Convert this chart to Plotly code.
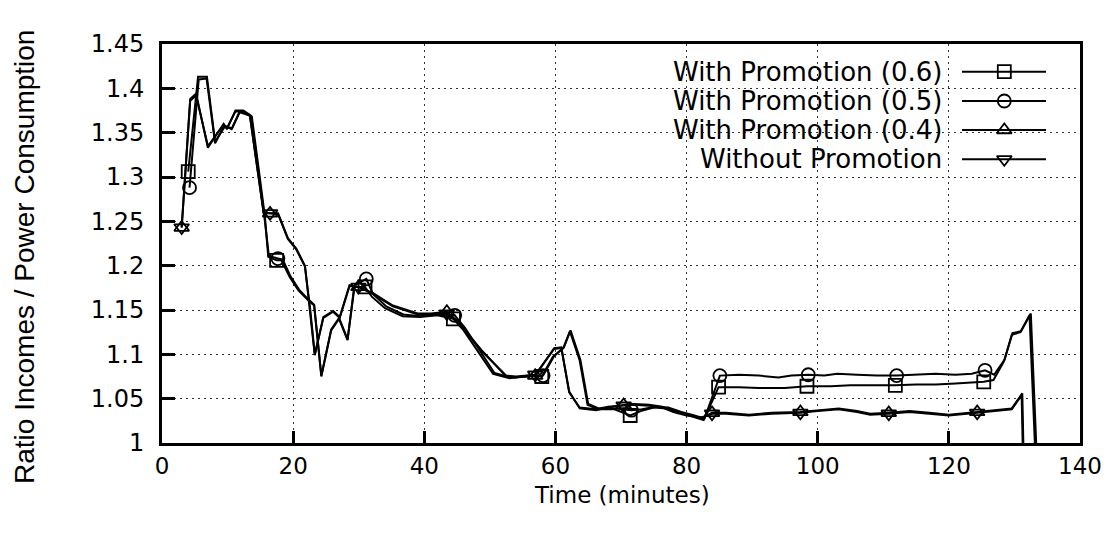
import plotly.graph_objects as go

# ---------------- data ----------------
t_06 = [4.0, 5.5, 6.85, 8.1, 9.6, 10.7, 11.9, 13.7, 15.7, 16.2,
        17.48, 18.2, 19.5, 20.8, 22.3, 23.2, 24.3, 25.8, 27.0, 28.3,
        29.3, 30.96, 32.0, 34.0, 36.7, 39.3, 42.0, 44.44, 46.0, 49.4,
        50.5, 53.0, 56.0, 57.92, 59.6, 61.2, 62.2, 63.7, 64.9, 66.5,
        69.0, 71.4, 73.0, 75.0, 77.0, 79.0, 81.0, 82.6, 84.88, 88.0,
        91.0, 95.0, 98.36, 102.0, 105.0, 108.0, 111.84, 115.0, 118.0, 121.0,
        125.32, 126.8, 128.4, 129.6, 130.9, 132.3, 133.4]
v_06 = [1.306, 1.413, 1.413, 1.340, 1.357, 1.355, 1.374, 1.368, 1.255, 1.210,
        1.206, 1.206, 1.187, 1.172, 1.161, 1.155, 1.075, 1.127, 1.140, 1.116,
        1.176, 1.176, 1.165, 1.152, 1.143, 1.142, 1.144, 1.140, 1.127, 1.090,
        1.078, 1.073, 1.076, 1.075, 1.097, 1.107, 1.126, 1.093, 1.043, 1.038,
        1.038, 1.031, 1.036, 1.040, 1.039, 1.034, 1.030, 1.026, 1.063, 1.063,
        1.062, 1.062, 1.064, 1.064, 1.065, 1.065, 1.065, 1.066, 1.066, 1.067,
        1.069, 1.071, 1.092, 1.122, 1.125, 1.144, 0.95]
m_06 = [4.0, 17.48, 30.96, 44.44, 57.92, 71.4, 84.88, 98.36, 111.84, 125.32]

t_05 = [4.2, 5.6, 6.8, 8.1, 9.5, 10.6, 11.8, 13.6, 15.6, 16.3,
        17.68, 18.4, 19.6, 20.9, 22.3, 23.2, 24.3, 25.8, 27.0, 28.3,
        29.4, 31.16, 32.2, 34.2, 36.8, 39.4, 42.2, 44.64, 46.2, 49.5,
        50.7, 53.2, 56.2, 58.12, 59.8, 61.3, 62.3, 63.8, 65.0, 66.6,
        69.2, 71.6, 73.2, 75.2, 77.2, 79.2, 81.2, 82.7, 85.08, 88.0,
        91.0, 94.0, 96.0, 98.56, 101.0, 103.0, 106.0, 109.0, 112.04, 115.0,
        118.0, 121.0, 123.5, 125.52, 126.9, 128.5, 129.7, 131.0, 132.5, 133.6]
v_05 = [1.288, 1.410, 1.411, 1.338, 1.358, 1.354, 1.373, 1.369, 1.256, 1.211,
        1.208, 1.207, 1.188, 1.173, 1.162, 1.156, 1.076, 1.128, 1.141, 1.117,
        1.178, 1.185, 1.168, 1.154, 1.145, 1.143, 1.145, 1.144, 1.130, 1.092,
        1.079, 1.074, 1.075, 1.076, 1.098, 1.108, 1.127, 1.094, 1.044, 1.039,
        1.039, 1.037, 1.038, 1.041, 1.040, 1.035, 1.031, 1.027, 1.076, 1.077,
        1.076, 1.074, 1.076, 1.077, 1.076, 1.078, 1.077, 1.076, 1.076, 1.077,
        1.078, 1.077, 1.078, 1.082, 1.077, 1.094, 1.124, 1.126, 1.146, 0.95]
m_05 = [4.2, 17.68, 31.16, 44.64, 58.12, 71.6, 85.08, 98.56, 112.04, 125.52]

t_04 = [3.0, 4.3, 5.2, 7.0, 9.4, 9.9, 11.2, 12.4, 13.4, 15.5,
        16.48, 17.7, 19.2, 20.5, 21.8, 22.6, 23.3, 24.6, 26.1, 27.1,
        28.6, 29.96, 32.2, 35.2, 36.5, 39.0, 41.0, 43.44, 45.0, 48.7,
        52.5, 54.0, 56.92, 59.8, 60.9, 62.1, 63.7, 66.2, 68.0, 70.4,
        72.0, 74.3, 76.3, 78.0, 80.0, 82.4, 83.88, 86.0, 89.5, 93.0,
        97.36, 100.0, 103.2, 106.0, 108.0, 110.84, 114.0, 117.0, 120.0, 124.32,
        127.0, 129.6, 131.2, 131.5]
v_04 = [1.243, 1.388, 1.394, 1.333, 1.360, 1.354, 1.375, 1.375, 1.370, 1.259,
        1.259, 1.259, 1.231, 1.219, 1.200, 1.150, 1.099, 1.142, 1.149, 1.142,
        1.178, 1.176, 1.169, 1.155, 1.152, 1.146, 1.146, 1.148, 1.138, 1.105,
        1.075, 1.074, 1.076, 1.107, 1.108, 1.058, 1.039, 1.037, 1.040, 1.043,
        1.044, 1.043, 1.041, 1.036, 1.032, 1.028, 1.034, 1.034, 1.032, 1.034,
        1.035, 1.037, 1.039, 1.036, 1.033, 1.034, 1.036, 1.034, 1.032, 1.035,
        1.037, 1.039, 1.056, 0.95]
m_04 = [3.0, 16.48, 29.96, 43.44, 56.92, 70.4, 83.88, 97.36, 110.84, 124.32]

t_wo = [3.0, 4.3, 5.2, 7.0, 9.4, 9.9, 11.2, 12.4, 13.4, 15.5,
        16.48, 17.7, 19.2, 20.5, 21.8, 22.6, 23.3, 24.6, 26.1, 27.1,
        28.6, 29.96, 32.2, 35.2, 36.5, 39.0, 41.0, 43.44, 45.0, 48.7,
        52.5, 54.0, 56.92, 59.8, 60.9, 62.1, 63.7, 66.2, 68.0, 70.4,
        72.0, 74.3, 76.3, 78.0, 80.0, 82.4, 83.88, 86.0, 89.5, 93.0,
        97.36, 100.0, 103.2, 106.0, 108.0, 110.84, 114.0, 117.0, 120.0, 124.32,
        127.0, 129.6, 131.1, 131.4]
v_wo = [1.243, 1.386, 1.392, 1.335, 1.359, 1.355, 1.374, 1.374, 1.369, 1.260,
        1.259, 1.258, 1.230, 1.218, 1.199, 1.151, 1.100, 1.141, 1.148, 1.141,
        1.177, 1.176, 1.168, 1.154, 1.151, 1.145, 1.145, 1.146, 1.137, 1.104,
        1.076, 1.075, 1.077, 1.106, 1.107, 1.057, 1.040, 1.038, 1.041, 1.042,
        1.043, 1.042, 1.040, 1.035, 1.031, 1.029, 1.033, 1.033, 1.031, 1.033,
        1.034, 1.036, 1.038, 1.035, 1.032, 1.033, 1.035, 1.033, 1.031, 1.034,
        1.036, 1.038, 1.054, 0.95]
m_wo = [3.0, 16.48, 29.96, 43.44, 56.92, 70.4, 83.88, 97.36, 110.84, 124.32]

series_names = ["With Promotion (0.6)", "With Promotion (0.5)",
                "With Promotion (0.4)", "Without Promotion"]
series_symbols = ["square-open", "circle-open", "triangle-up-open", "triangle-down-open"]

x_ticks = [0, 20, 40, 60, 80, 100, 120, 140]
y_ticks = [1.0, 1.05, 1.1, 1.15, 1.2, 1.25, 1.3, 1.35, 1.4, 1.45]
y_tick_labels = ["1", "1.05", "1.1", "1.15", "1.2", "1.25", "1.3", "1.35", "1.4", "1.45"]

x_title = "Time (minutes)"
y_title = "Ratio Incomes / Power Consumption"

# ---------------- layout geometry ----------------
TXT = "DejaVu Sans"
W, H = 1116, 534
OFF = 8                      # default page margin of the html body
L, R, T, B = 154, 44, 36, 99
pw, ph = W - L - R, H - T - B


def px_to_paper(xp, yp):
    """page pixel -> paper coordinate of the plot area"""
    return (xp - OFF - L) / pw, 1 - (yp - OFF - T) / ph


fig = go.Figure()

all_series = [(t_06, v_06, m_06), (t_05, v_05, m_05), (t_04, v_04, m_04), (t_wo, v_wo, m_wo)]
for (t, v, marks), name, sym in zip(all_series, series_names, series_symbols):
    fig.add_trace(go.Scatter(x=t, y=v, mode="lines", name=name, showlegend=False,
                             line=dict(color="black", width=2), hoverinfo="skip"))
    idx = [t.index(m) for m in marks]
    fig.add_trace(go.Scatter(x=[t[i] for i in idx], y=[v[i] for i in idx], mode="markers",
                             showlegend=False, cliponaxis=False,
                             marker=dict(symbol=sym, size=13, color="black",
                                         line=dict(color="black", width=1.8))))

# custom gnuplot-like key (text on the left, sample on the right)
key_rows_px = [71.7, 101.0, 130.0, 159.3]
key_text_x, _ = px_to_paper(944, 0)
kl0, _ = px_to_paper(962, 0)
kl1, _ = px_to_paper(1046, 0)
kmx, _ = px_to_paper(1004.3, 0)
bx0, by1 = px_to_paper(610, 55)
bx1, by0 = px_to_paper(1058, 173)

fig.add_shape(type="rect", xref="paper", yref="paper", x0=bx0, x1=bx1, y0=by0, y1=by1,
              line=dict(width=0), fillcolor="white", layer="between")
for name, sym, rpx in zip(series_names, series_symbols, key_rows_px):
    _, ry = px_to_paper(0, rpx)
    fig.add_annotation(x=key_text_x, y=ry, xref="paper", yref="paper", text=name,
                       showarrow=False, xanchor="right", yanchor="middle",
                       font=dict(family=TXT, size=26, color="black"))
    fig.add_shape(type="line", xref="paper", yref="paper", x0=kl0, x1=kl1,
                  y0=ry, y1=ry, line=dict(color="black", width=2), layer="above")
    fig.add_trace(go.Scatter(x=[kmx], y=[ry], xaxis="x2", yaxis="y2", mode="markers",
                             showlegend=False, hoverinfo="skip",
                             marker=dict(symbol=sym, size=13, color="black",
                                         line=dict(color="black", width=1.8))))

xtx, xty = px_to_paper(622, 495)
fig.add_annotation(x=xtx, y=xty, xref="paper", yref="paper", text=x_title, showarrow=False,
                   xanchor="center", yanchor="middle", font=dict(family=TXT, size=23, color="black"))
ytx, yty = px_to_paper(24, 257)
fig.add_annotation(x=ytx, y=yty, xref="paper", yref="paper", text=y_title, showarrow=False,
                   textangle=-90, xanchor="center", yanchor="middle",
                   font=dict(family="Liberation Sans", size=28, color="black"))

fig.update_layout(
    width=W, height=H,
    margin=dict(l=L, r=R, t=T, b=B, pad=0),
    paper_bgcolor="white", plot_bgcolor="white",
    showlegend=False,
    font=dict(family=TXT, size=24, color="black"),
    xaxis=dict(range=[0, 140], tickvals=x_ticks, ticks="inside", ticklen=12, tickwidth=2.5,
               tickcolor="black", showline=True, linecolor="black", linewidth=3, mirror=True,
               showgrid=True, gridcolor="#333", gridwidth=1, griddash="2px,4px",
               zeroline=False, ticklabelstandoff=0,
               tickfont=dict(family=TXT, size=23, color="black")),
    yaxis=dict(range=[1.0, 1.45], tickvals=y_ticks, ticktext=y_tick_labels, ticks="inside",
               ticklen=13, tickwidth=2.5, tickcolor="black", showline=True, linecolor="black",
               linewidth=3, mirror=True, showgrid=True, gridcolor="#333", gridwidth=1,
               griddash="2px,4px", zeroline=False, ticklabelstandoff=10,
               tickfont=dict(family=TXT, size=24, color="black")),
    xaxis2=dict(range=[0, 1], overlaying="x", visible=False),
    yaxis2=dict(range=[0, 1], overlaying="y", visible=False),
)

fig.write_html("out.html")
